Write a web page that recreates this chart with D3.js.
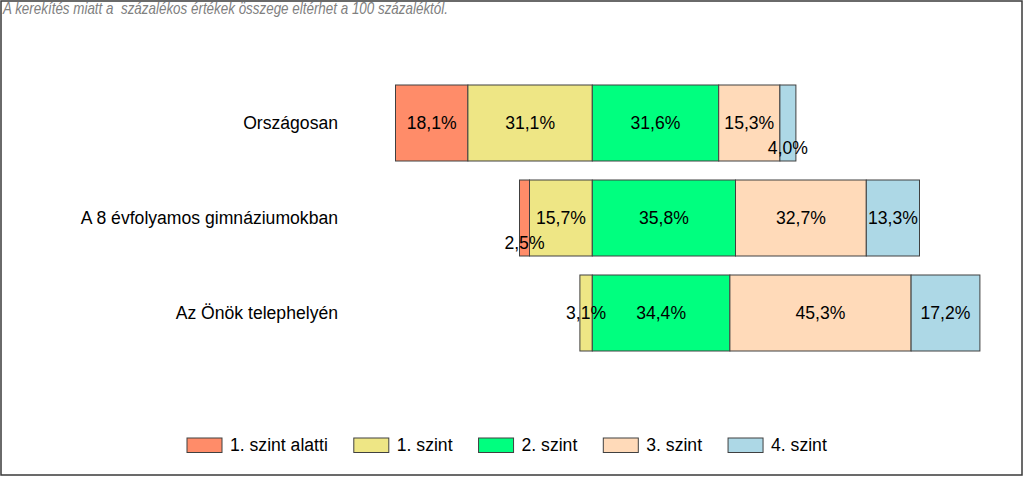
<!DOCTYPE html>
<html>
<head>
<meta charset="utf-8">
<script src="https://cdn.jsdelivr.net/npm/d3@7"></script>
<style>
  html, body { margin: 0; padding: 0; background: #fff; }
  svg { display: block; }
  text { font-family: "Liberation Sans", Arial, sans-serif; white-space: pre; }
</style>
</head>
<body>
<svg id="chart" width="1024" height="478"></svg>
<script>
// ---- data ----
const categories = ["Országosan", "A 8 évfolyamos gimnáziumokban", "Az Önök telephelyén"];
const levels = ["1. szint alatti", "1. szint", "2. szint", "3. szint", "4. szint"];
const belowLevel1 = [18.1, 2.5, 0];
const level1 = [31.1, 15.7, 3.1];
const level2 = [31.6, 35.8, 34.4];
const level3 = [15.3, 32.7, 45.3];
const level4 = [4.0, 13.3, 17.2];
const colors = ["#FF8C69", "#EEE685", "#00FF7F", "#FFDAB9", "#ADD8E6"];
const note = "A kerekítés miatt a  százalékos értékek összege eltérhet a 100 százaléktól.";

const series = [belowLevel1, level1, level2, level3, level4];

const svg = d3.select("#chart");

// frame
svg.append("rect")
  .attr("x", 1).attr("y", 1).attr("width", 1021).attr("height", 474)
  .attr("fill", "#fff").attr("stroke", "#3a3a3a").attr("stroke-width", 1.5);

// note
svg.append("text")
  .attr("x", 3).attr("y", 14)
  .attr("font-size", 17).attr("font-style", "italic")
  .attr("fill", "#808080")
  .attr("textLength", 445).attr("lengthAdjust", "spacingAndGlyphs")
  .text(note);

// scales
const x = d3.scaleLinear().domain([-50, 100]).range([592.3 - 200, 592.3 + 400]);
const y = d3.scaleBand().domain(categories).range([75.5, 360.5]).paddingInner(0.2).paddingOuter(0.1);

const fontSize = 17.6;

// category labels
svg.append("g").selectAll("text")
  .data(categories).join("text")
  .attr("x", 338).attr("y", d => y(d) + y.bandwidth() / 2)
  .attr("dy", "0.35em").attr("text-anchor", "end")
  .attr("font-size", fontSize).attr("fill", "#000")
  .text(d => d);

// build segments
const fmt = v => v.toFixed(1).replace(".", ",") + "%";
categories.forEach((cat, ci) => {
  const neg = series[0][ci] + series[1][ci];
  let start = -neg;
  const segs = [];
  series.forEach((s, si) => {
    const v = s[ci];
    segs.push({ cat, si, v, x0: start, x1: start + v });
    start += v;
  });
  const g = svg.append("g");
  const drawn = segs.filter(d => d.v > 0);
  g.selectAll("rect").data(drawn).join("rect")
    .attr("x", d => x(d.x0)).attr("y", y(cat))
    .attr("width", d => x(d.x1) - x(d.x0)).attr("height", y.bandwidth())
    .attr("fill", d => colors[d.si])
    .attr("stroke", "#404040").attr("stroke-width", 1);
  const labels = g.selectAll("text.lbl").data(drawn).join("text")
    .attr("class", "lbl")
    .attr("x", d => (x(d.x0) + x(d.x1)) / 2)
    .attr("y", y(cat) + y.bandwidth() / 2)
    .attr("dy", "0.35em").attr("text-anchor", "middle")
    .attr("font-size", fontSize).attr("fill", "#000")
    .text(d => fmt(d.v));
  // simple collision avoidance: shift smaller label down when neighbours overlap
  const nodes = labels.nodes();
  const info = nodes.map((n, i) => {
    const w = n.getComputedTextLength();
    const cx = (x(drawn[i].x0) + x(drawn[i].x1)) / 2;
    return { n, v: drawn[i].v, l: cx - w / 2, r: cx + w / 2, shifted: false };
  });
  for (let i = 0; i < info.length - 1; i++) {
    const a = info[i], b = info[i + 1];
    if (a.shifted || b.shifted) continue;
    if (a.r > b.l) {
      const s = a.v < b.v ? a : b;
      s.shifted = true;
      d3.select(s.n).attr("y", y(cat) + y.bandwidth() / 2 + 25);
    }
  }
});

// legend
const lg = svg.append("g");
let lx = 187;
levels.forEach((name, i) => {
  lg.append("rect")
    .attr("x", lx).attr("y", 438).attr("width", 35).attr("height", 14.5)
    .attr("fill", colors[i]).attr("stroke", "#404040").attr("stroke-width", 1);
  const t = lg.append("text")
    .attr("x", lx + 43).attr("y", 445).attr("dy", "0.35em")
    .attr("font-size", fontSize).attr("fill", "#000")
    .text(name);
  lx += 43 + t.node().getComputedTextLength() + 26;
});
</script>
</body>
</html>
